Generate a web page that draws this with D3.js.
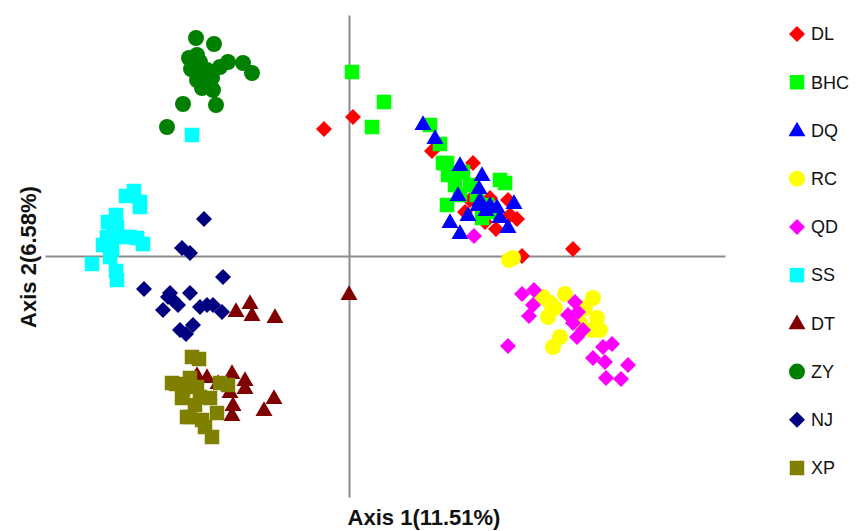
<!DOCTYPE html>
<html>
<head>
<meta charset="utf-8">
<script src="https://cdn.jsdelivr.net/npm/d3@7"></script>
<style>
  body { margin: 0; background: #fff; }
  svg { display: block; font-family: "Liberation Sans", Arial, sans-serif; }
</style>
</head>
<body>
<svg id="chart" width="860" height="531"></svg>
<script>
// PCoA scores (axis 1, axis 2)
var groupNames = ["DL", "BHC", "DQ", "RC", "QD", "SS", "DT", "ZY", "NJ", "XP"];

var DL = [[-0.025,0.127],[0.004,0.139],[0.083,0.105],[0.124,0.093],[0.141,0.058],[0.159,0.056],
  [0.116,0.044],[0.168,0.037],[0.147,0.027],[0.173,0.000],[0.224,0.007],[0.161,0.041],[0.136,0.034],[0.121,0.056]];
var BHC = [[0.003,0.184],[0.035,0.154],[0.023,0.129],[0.081,0.131],[0.091,0.112],[0.098,0.093],[0.094,0.093],
  [0.114,0.084],[0.099,0.081],[0.101,0.083],[0.151,0.076],[0.156,0.073],[0.106,0.071],[0.128,0.061],
  [0.098,0.051],[0.133,0.038],[0.141,0.044],[0.121,0.071],[0.138,0.051],[0.111,0.061]];
var DQ = [[0.074,0.132],[0.086,0.118],[0.111,0.091],[0.133,0.081],[0.130,0.068],[0.109,0.061],[0.131,0.056],
  [0.141,0.051],[0.148,0.049],[0.165,0.053],[0.119,0.041],[0.151,0.039],[0.101,0.034],[0.159,0.029],
  [0.111,0.023],[0.129,0.051],[0.137,0.046]];
var RC = [[0.160,-0.004],[0.194,-0.041],[0.201,-0.047],[0.206,-0.052],[0.199,-0.061],[0.216,-0.038],
  [0.244,-0.042],[0.236,-0.052],[0.248,-0.062],[0.251,-0.074],[0.243,-0.074],[0.211,-0.081],
  [0.204,-0.091],[0.231,-0.067],[0.164,-0.002]];
var QD = [[0.125,0.020],[0.173,-0.038],[0.185,-0.034],[0.184,-0.049],[0.180,-0.060],[0.226,-0.046],
  [0.229,-0.056],[0.219,-0.059],[0.224,-0.067],[0.234,-0.074],[0.228,-0.081],[0.159,-0.090],
  [0.254,-0.091],[0.263,-0.088],[0.244,-0.102],[0.256,-0.106],[0.279,-0.109],[0.257,-0.122],[0.272,-0.123]];
var SS = [[-0.157,0.121],[-0.223,0.060],[-0.215,0.065],[-0.209,0.054],[-0.209,0.049],[-0.233,0.041],
  [-0.241,0.034],[-0.232,0.029],[-0.242,0.019],[-0.229,0.019],[-0.219,0.019],[-0.212,0.018],
  [-0.206,0.012],[-0.246,0.011],[-0.237,0.006],[-0.239,-0.001],[-0.257,-0.008],[-0.233,-0.015],
  [-0.232,-0.024],[-0.236,0.024]];
var DT = [[-0.113,-0.055],[-0.099,-0.047],[-0.097,-0.059],[-0.074,-0.061],[0.000,-0.038],[-0.117,-0.117],
  [-0.104,-0.124],[-0.104,-0.132],[-0.116,-0.149],[-0.117,-0.159],[-0.075,-0.142],[-0.085,-0.154],
  [-0.142,-0.121],[-0.152,-0.119],[-0.119,-0.136],[-0.131,-0.127]];
var ZY = [[-0.153,0.218],[-0.135,0.212],[-0.160,0.198],[-0.152,0.201],[-0.149,0.194],[-0.158,0.187],
  [-0.146,0.183],[-0.152,0.176],[-0.142,0.176],[-0.147,0.168],[-0.136,0.166],[-0.129,0.189],
  [-0.121,0.194],[-0.106,0.193],[-0.097,0.183],[-0.166,0.152],[-0.133,0.151],[-0.182,0.129],
  [-0.142,0.186],[-0.137,0.178]];
var NJ = [[-0.145,0.037],[-0.167,0.008],[-0.159,0.003],[-0.126,-0.021],[-0.205,-0.033],[-0.179,-0.037],
  [-0.159,-0.037],[-0.176,-0.044],[-0.186,-0.054],[-0.171,-0.049],[-0.149,-0.051],[-0.142,-0.049],
  [-0.136,-0.049],[-0.127,-0.056],[-0.156,-0.069],[-0.169,-0.074],[-0.163,-0.078],[-0.181,-0.041]];
var XP = [[-0.157,-0.101],[-0.150,-0.103],[-0.177,-0.127],[-0.159,-0.122],[-0.166,-0.134],[-0.152,-0.131],
  [-0.129,-0.127],[-0.121,-0.129],[-0.139,-0.142],[-0.167,-0.142],[-0.149,-0.141],[-0.159,-0.161],
  [-0.147,-0.164],[-0.144,-0.171],[-0.137,-0.181],[-0.162,-0.161],[-0.132,-0.157],[-0.173,-0.128],
  [-0.154,-0.149]];

var groupPoints = [DL, BHC, DQ, RC, QD, SS, DT, ZY, NJ, XP];
var groupColours = ["#ff0000", "#00ff00", "#0000ff", "#ffff00", "#ff00ff",
                    "#00ffff", "#800000", "#008000", "#000080", "#808000"];
var groupShapes = ["diamond", "square", "triangle", "circle", "diamond",
                   "square", "triangle", "circle", "diamond", "square"];

var xLabel = "Axis 1(11.51%)";
var yLabel = "Axis 2(6.58%)";

var svg = d3.select("#chart");

var x = d3.scaleLinear().domain([-0.304, 0.376]).range([45, 725]);
var y = d3.scaleLinear().domain([-0.241, 0.241]).range([497, 15]);

//symbol generators, sizes are areas in px^2
var shapes = {
    square: d3.symbol().type(d3.symbolSquare).size(210),
    diamond: d3.symbol().type(d3.symbolSquare).size(128),
    triangle: d3.symbol().type(d3.symbolTriangle).size(125),
    circle: d3.symbol().type(d3.symbolCircle).size(200)
};
function shapeTransform(shape, px, py) {
    var t = "translate(" + px + "," + py + ")";
    if (shape === "diamond") t += " rotate(45)";
    if (shape === "triangle") t += " translate(0,1)";
    return t;
}

//axes through the origin (no ticks)
var xAxis = d3.axisBottom(x).tickValues([]).tickSizeOuter(0);
var yAxis = d3.axisLeft(y).tickValues([]).tickSizeOuter(0);

svg.append("g")
    .attr("transform", "translate(0," + y(0) + ")")
    .call(xAxis)
    .call(function (g) { g.select(".domain").attr("stroke", "#8c8c8c").attr("stroke-width", 2); });

svg.append("g")
    .attr("transform", "translate(" + x(0) + ",0)")
    .call(yAxis)
    .call(function (g) { g.select(".domain").attr("stroke", "#8c8c8c").attr("stroke-width", 2); });

//points, drawn in legend order
groupPoints.forEach(function (pts, i) {
    svg.append("g")
        .attr("class", "group " + groupNames[i])
        .selectAll("path")
        .data(pts)
        .enter()
        .append("path")
        .attr("d", shapes[groupShapes[i]]())
        .attr("fill", groupColours[i])
        .attr("transform", function (d) {
            return shapeTransform(groupShapes[i], x(d[0]), y(d[1]));
        });
});

//legend
var legend = svg.append("g").attr("class", "legend");
var legendY = d3.scalePoint().domain(groupNames).range([34, 468]);
groupNames.forEach(function (name, i) {
    var ly = legendY(name);
    legend.append("path")
        .attr("d", shapes[groupShapes[i]]())
        .attr("fill", groupColours[i])
        .attr("transform", shapeTransform(groupShapes[i], 797, ly));
    legend.append("text")
        .attr("x", 811)
        .attr("y", ly)
        .attr("dy", "0.35em")
        .attr("font-size", 18)
        .attr("fill", "#111")
        .text(name);
});

//axis titles
svg.append("text")
    .attr("x", 424)
    .attr("y", 525)
    .attr("text-anchor", "middle")
    .attr("font-size", 22)
    .attr("font-weight", "bold")
    .attr("fill", "#111")
    .text(xLabel);

svg.append("text")
    .attr("transform", "translate(36,257) rotate(-90)")
    .attr("text-anchor", "middle")
    .attr("font-size", 22)
    .attr("font-weight", "bold")
    .attr("fill", "#111")
    .text(yLabel);
</script>
</body>
</html>
